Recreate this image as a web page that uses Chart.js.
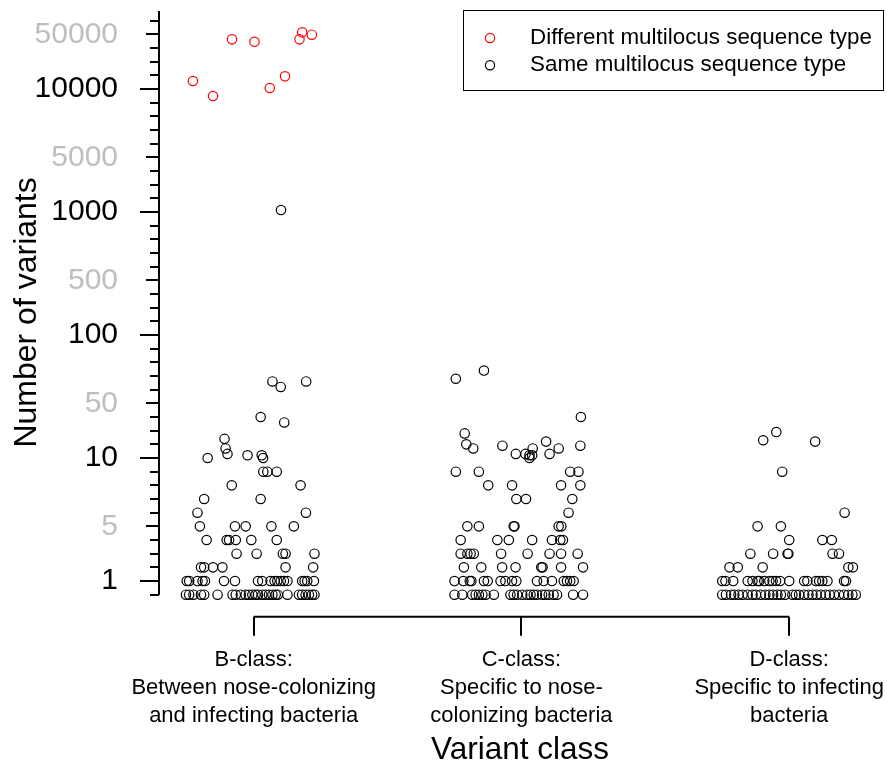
<!DOCTYPE html>
<html>
<head>
<meta charset="utf-8">
<script src="https://cdn.jsdelivr.net/npm/chart.js@4.4.1/dist/chart.umd.min.js"></script>
<style>
  html, body { margin: 0; padding: 0; background: #fff; }
</style>
</head>
<body>
<canvas id="variantChart" width="887" height="766"></canvas>
<script>
// x categories (one tick per class, multi-line labels)
const classLabels = [
    ["B-class:", "Between nose-colonizing", "and infecting bacteria"],
    ["C-class:", "Specific to nose-", "colonizing bacteria"],
    ["D-class:", "Specific to infecting", "bacteria"]
];
const seriesNames = ["Different multilocus sequence type", "Same multilocus sequence type"];

// B-class, different MLST (red). jitter = horizontal offset from the class position
const bDiffJitter = [-0.227, -0.152, -0.081, 0.003, 0.060, 0.117, 0.171, 0.181, 0.217];
const bDiffCount = [15800, 9480, 46300, 44500, 10700, 19200, 46300, 51400, 49700];

// B-class, same MLST
const bSameJitter = [
    0.102, 0.070, 0.101, 0.196, 0.026, 0.114, -0.109, -0.105, -0.098, -0.172, -0.023, 0.030, 0.035,
    0.036, 0.051, 0.086,
    -0.082, 0.175,
    -0.185, 0.026,
    -0.210, 0.195,
    -0.201, -0.070, -0.030, 0.066, 0.150,
    -0.176, -0.101, -0.092, -0.067, -0.009, 0.086,
    -0.064, 0.011, 0.109, 0.119, 0.227,
    -0.197, -0.185, -0.152, -0.117, 0.119, 0.222,
    -0.250, -0.241, -0.210, -0.191, -0.182, -0.111, -0.070, 0.016, 0.032, 0.063, 0.078, 0.088, 0.101, 0.113, 0.126, 0.181, 0.190, 0.200, 0.225,
    -0.253, -0.241, -0.225, -0.197, -0.185, -0.135, -0.079, -0.067, -0.048, -0.030, -0.018, -0.005, 0.007, 0.016, 0.032, 0.045, 0.057, 0.070, 0.082, 0.090, 0.126, 0.169, 0.181, 0.194, 0.206, 0.218, 0.227
];
const bSameCount = [
    1140, 66, 62, 66, 40, 36, 24, 17, 13, 10, 12, 12, 10,
    9, 9, 9,
    8, 8,
    7, 7,
    6, 6,
    5, 5, 5, 5, 5,
    4, 4, 4, 4, 4, 4,
    3, 3, 3, 3, 3,
    2, 2, 2, 2, 2, 2,
    1, 1, 1, 1, 1, 1, 1, 1, 1, 1, 1, 1, 1, 1, 1, 1, 1, 1, 1,
    0, 0, 0, 0, 0, 0, 0, 0, 0, 0, 0, 0, 0, 0, 0, 0, 0, 0, 0, 0, 0, 0, 0, 0, 0, 0, 0
];

// C-class, same MLST
const cSameJitter = [
    -0.245, -0.140, 0.222, -0.212, -0.206, -0.180, -0.071, -0.021, 0.015, 0.042, 0.030, 0.040, 0.030, 0.092, 0.139, 0.105, 0.220,
    -0.245, -0.159, 0.182, 0.213,
    -0.124, -0.035, 0.148, 0.220,
    -0.019, 0.017, 0.190,
    0.176,
    -0.202, -0.159, -0.029, -0.026, 0.139, 0.149,
    -0.227, -0.090, -0.047, 0.040, 0.114, 0.145, 0.155,
    -0.227, -0.202, -0.190, -0.178, -0.076, 0.023, 0.105, 0.148, 0.210,
    -0.215, -0.150, -0.072, -0.022, 0.074, 0.079, 0.148, 0.230,
    -0.250, -0.217, -0.193, -0.187, -0.140, -0.126, -0.078, -0.060, -0.035, -0.019, 0.058, 0.083, 0.114, 0.158, 0.170, 0.182, 0.195,
    -0.250, -0.221, -0.184, -0.171, -0.159, -0.146, -0.134, -0.103, -0.041, -0.029, -0.016, 0.003, 0.021, 0.034, 0.046, 0.058, 0.077, 0.089, 0.102, 0.120, 0.133, 0.193, 0.230
];
const cSameCount = [
    68, 74, 40, 28, 20, 17, 19, 13, 13, 17, 12, 12, 10, 22, 17, 13, 19,
    9, 9, 9, 9,
    8, 8, 8, 8,
    7, 7, 7,
    6,
    5, 5, 5, 5, 5, 5,
    4, 4, 4, 4, 4, 4, 4,
    3, 3, 3, 3, 3, 3, 3, 3, 3,
    2, 2, 2, 2, 2, 2, 2, 2,
    1, 1, 1, 1, 1, 1, 1, 1, 1, 1, 1, 1, 1, 1, 1, 1, 1,
    0, 0, 0, 0, 0, 0, 0, 0, 0, 0, 0, 0, 0, 0, 0, 0, 0, 0, 0, 0, 0, 0, 0
];

// D-class, same MLST
const dSameJitter = [
    -0.097, -0.048, 0.097, -0.026,
    0.207,
    -0.118, -0.031,
    0.000, 0.124, 0.159,
    -0.145, -0.060, -0.006, -0.003, 0.162, 0.186,
    -0.223, -0.192, -0.099, 0.221, 0.238,
    -0.250, -0.238, -0.209, -0.155, -0.137, -0.118, -0.112, -0.093, -0.074, -0.062, -0.049, -0.034, 0.000, 0.056, 0.068, 0.100, 0.112, 0.124, 0.143, 0.205, 0.212,
    -0.250, -0.236, -0.217, -0.205, -0.189, -0.174, -0.155, -0.137, -0.124, -0.106, -0.089, -0.074, -0.060, -0.044, -0.031, -0.015, 0.012, 0.025, 0.037, 0.056, 0.072, 0.087, 0.102, 0.118, 0.136, 0.151, 0.168, 0.186, 0.205, 0.221, 0.236, 0.249
];
const dSameCount = [
    23, 29, 22, 9,
    6,
    5, 5,
    4, 4, 4,
    3, 3, 3, 3, 3, 3,
    2, 2, 2, 2, 2,
    1, 1, 1, 1, 1, 1, 1, 1, 1, 1, 1, 1, 1, 1, 1, 1, 1, 1, 1, 1, 1,
    0, 0, 0, 0, 0, 0, 0, 0, 0, 0, 0, 0, 0, 0, 0, 0, 0, 0, 0, 0, 0, 0, 0, 0, 0, 0, 0, 0, 0, 0, 0, 0
];

// y axis ticks
const yTickValues = [0, 1, 2, 3, 4, 5, 6, 7, 8, 9, 10, 20, 30, 40, 50, 60, 70, 80, 90,
    100, 200, 300, 400, 500, 600, 700, 800, 900, 1000, 2000, 3000, 4000, 5000, 6000, 7000, 8000, 9000,
    10000, 20000, 30000, 40000, 50000, 60000];
const yMajorLabels = [1, 10, 100, 1000, 10000];
const yGrayLabels = [5, 50, 500, 5000, 50000];

const FONT = '"Liberation Sans", Arial, Helvetica, sans-serif';
Chart.defaults.font.family = FONT;

// each decade gets the same height, linear inside the decade (0..10 is the first one)
function toAxis(v) {
    if (v <= 10) return v;
    const k = Math.floor(Math.log10(v) + 1e-9);
    const base = Math.pow(10, k);
    return 10 + 9 * (k - 1) + (v - base) / base;
}
function fromAxis(t) {
    if (t <= 10) return t;
    const k = Math.floor((t - 10) / 9) + 1;
    const base = Math.pow(10, k);
    return base + (t - 10 - 9 * (k - 1)) * base;
}

class DecadeScale extends Chart.LinearScale {
    buildTicks() {
        return yTickValues.filter(v => v >= this.min && v <= this.max).map(v => ({ value: v }));
    }
    getPixelForValue(value) {
        const lo = toAxis(this.min), hi = toAxis(this.max);
        return this.getPixelForDecimal((toAxis(value) - lo) / (hi - lo));
    }
    getValueForPixel(pixel) {
        const lo = toAxis(this.min), hi = toAxis(this.max);
        return fromAxis(lo + this.getDecimalForPixel(pixel) * (hi - lo));
    }
}
DecadeScale.id = 'decade';
DecadeScale.defaults = Chart.LinearScale.defaults;
Chart.register(DecadeScale);

function makePoints(classIndex, jitter, count) {
    return jitter.map((j, i) => ({ x: classIndex + 1 + j, y: count[i] }));
}

// keep the plot area where the layout padding puts it
function noOverflow(scale) {
    scale.paddingLeft = 0;
    scale.paddingRight = 0;
    scale.paddingTop = 0;
    scale.paddingBottom = 0;
}

// tick marks of y axis and the bracket of the x axis
const axisDecor = {
    id: 'axisDecor',
    afterDraw(chart) {
        const { ctx, chartArea } = chart;
        const x = chart.scales.x, y = chart.scales.y;
        ctx.save();
        ctx.strokeStyle = '#000';
        ctx.lineWidth = 2;
        const ax = chartArea.left;
        y.ticks.forEach(t => {
            const py = Math.round(y.getPixelForValue(t.value));
            let len = 9;
            if (yMajorLabels.includes(t.value)) len = 19;
            else if (yGrayLabels.includes(t.value)) len = 13;
            ctx.beginPath();
            ctx.moveTo(ax - len, py);
            ctx.lineTo(ax, py);
            ctx.stroke();
        });
        const by = x.top + 22, bt = x.top + 41;
        const x1 = x.getPixelForValue(1), x3 = x.getPixelForValue(classLabels.length);
        ctx.beginPath();
        ctx.moveTo(x1, by);
        ctx.lineTo(x3, by);
        ctx.stroke();
        x.ticks.forEach(t => {
            const px = Math.round(x.getPixelForValue(t.value));
            ctx.beginPath();
            ctx.moveTo(px, by);
            ctx.lineTo(px, bt);
            ctx.stroke();
        });
        ctx.restore();
    }
};

// boxed legend in the top right corner
const boxLegend = {
    id: 'boxLegend',
    afterDraw(chart) {
        const ctx = chart.ctx;
        ctx.save();
        ctx.lineWidth = 1;
        ctx.strokeStyle = '#000';
        ctx.strokeRect(463.5, 10.5, 420, 80);
        ctx.font = '22.4px ' + FONT;
        ctx.textBaseline = 'middle';
        ctx.textAlign = 'left';
        chart.data.datasets.forEach((ds, i) => {
            const cy = 38 + i * 27.3;
            ctx.beginPath();
            ctx.arc(490, cy, 4.6, 0, Math.PI * 2);
            ctx.strokeStyle = ds.borderColor;
            ctx.lineWidth = 1.2;
            ctx.stroke();
            ctx.fillStyle = '#000';
            ctx.fillText(ds.label, 530, cy);
        });
        ctx.restore();
    }
};

const ctx = document.getElementById('variantChart').getContext('2d');
const variantChart = new Chart(ctx, {
    type: 'scatter',
    data: {
        datasets: [
            {
                label: seriesNames[0],
                data: makePoints(0, bDiffJitter, bDiffCount),
                borderColor: '#FF0000',
                backgroundColor: 'rgba(0,0,0,0)',
                pointRadius: 4.7,
                borderWidth: 1.2,
                clip: false
            },
            {
                label: seriesNames[1],
                data: makePoints(0, bSameJitter, bSameCount)
                    .concat(makePoints(1, cSameJitter, cSameCount))
                    .concat(makePoints(2, dSameJitter, dSameCount)),
                borderColor: '#000000',
                backgroundColor: 'rgba(0,0,0,0)',
                pointRadius: 4.7,
                borderWidth: 1.2,
                clip: false
            }
        ]
    },
    options: {
        responsive: false,
        animation: false,
        layout: { padding: { top: 12.4, right: 1, left: 0, bottom: 0 } },
        plugins: {
            legend: { display: false },
            tooltip: { enabled: false }
        },
        scales: {
            x: {
                type: 'linear',
                min: 0.6463,
                max: 3.3433,
                afterBuildTicks: (scale) => {
                    scale.ticks = classLabels.map((_, i) => ({ value: i + 1 }));
                },
                afterFit: (scale) => { scale.height = 171.3; noOverflow(scale); },
                grid: { display: false, drawTicks: false },
                border: { display: false },
                ticks: {
                    autoSkip: false,
                    maxRotation: 0,
                    padding: 51,
                    color: '#000',
                    font: { size: 22, lineHeight: 1.27 },
                    callback: (value, index) => classLabels[index]
                },
                title: {
                    display: true,
                    text: 'Variant class',
                    color: '#000',
                    font: { size: 31.5, lineHeight: 1 },
                    padding: { top: 0, bottom: 0 }
                }
            },
            y: {
                type: 'decade',
                min: 0,
                max: 66000,
                afterFit: (scale) => { scale.width = 159; noOverflow(scale); },
                grid: { display: false, drawTicks: false },
                border: { display: true, color: '#000', width: 2 },
                ticks: {
                    autoSkip: false,
                    padding: 41,
                    font: { size: 30 },
                    color: (c) => yGrayLabels.includes(c.tick.value) ? '#BEBEBE' : '#000',
                    callback: (value) => (yMajorLabels.includes(value) || yGrayLabels.includes(value)) ? String(value) : ''
                },
                title: {
                    display: true,
                    // trailing spaces move the centred title a little lower, as in the original
                    text: 'Number of variants  ',
                    color: '#000',
                    font: { size: 32, lineHeight: 1.2 },
                    padding: { top: 8, bottom: 0 }
                }
            }
        }
    },
    plugins: [axisDecor, boxLegend]
});
</script>
</body>
</html>
